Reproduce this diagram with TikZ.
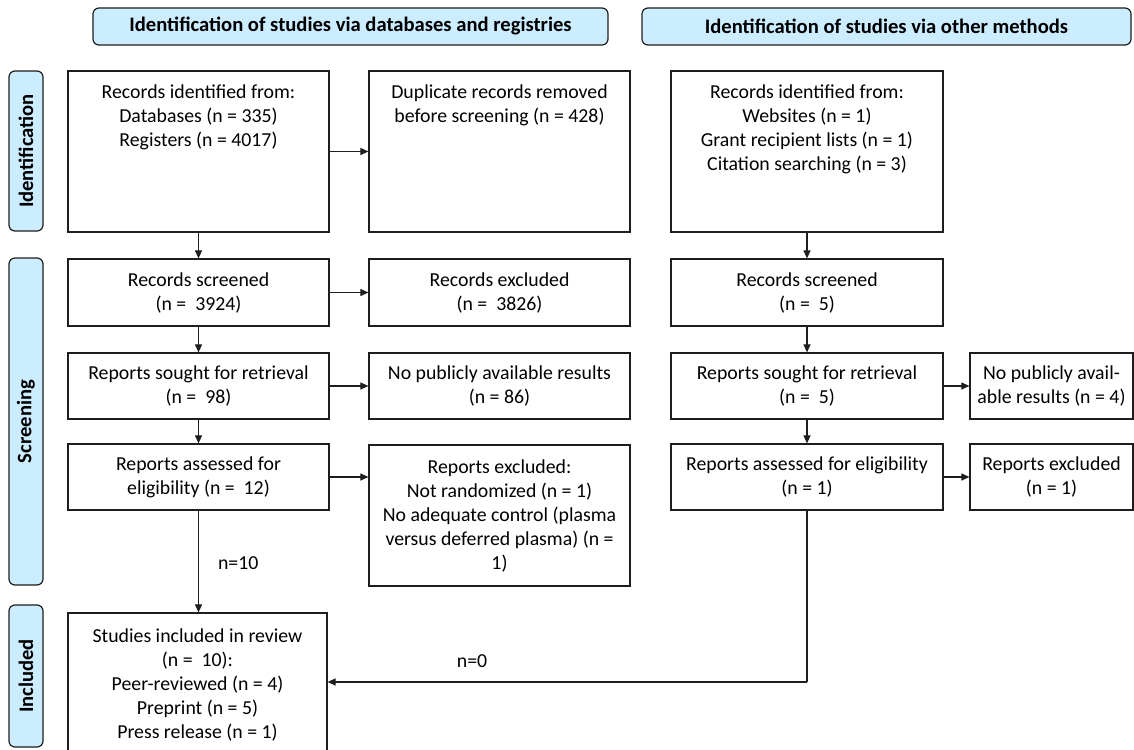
\documentclass[tikz,border=0pt]{standalone}
\usepackage{fontspec}
\setmainfont{Carlito}
\usetikzlibrary{arrows.meta}
\definecolor{hdrblue}{RGB}{204,236,255}
\definecolor{edge}{RGB}{30,30,30}
\begin{document}
\begin{tikzpicture}[x=1pt,y=-1pt,
  every node/.style={font=\fontsize{19.8}{24}\selectfont, inner sep=0pt},
  box/.style={draw=edge, line width=1.2pt, fill=white, align=center},
  txt/.style={align=center},
  hdr/.style={draw=edge, line width=1.2pt, fill=hdrblue, rounded corners=6pt, font=\fontsize{20.6}{24}\selectfont\bfseries},
  side/.style={hdr, rotate=90},
  arr/.style={draw=edge, line width=1.1pt, -{Triangle[length=8pt,width=7pt]}},
  conn/.style={draw=edge, line width=1.1pt},
  lbl/.style={font=\fontsize{19.8}{24}\selectfont}
]
\useasboundingbox (0,0) rectangle (1134,749);
\clip (0,0) rectangle (1134,749);

% headers
\node[hdr, minimum width=515pt, minimum height=37pt] (hA) at (350.5,26.5) {Identification of studies via databases and registries};
\node[hdr, minimum width=489pt, minimum height=37pt] (hB) at (886.5,26.5) {Identification of studies via other methods};
\node[side, minimum width=160pt, minimum height=34pt] (sI) at (26,151) {Identification};
\node[side, minimum width=327pt, minimum height=34pt] (sS) at (26,421.5) {Screening};
\node[side, minimum width=142pt, minimum height=34pt] (sN) at (26,676) {Included};

% identification row
\node[box, minimum width=261pt, minimum height=161pt] (idA) at (198.5,151.5) {};
\node[txt] (idAt) at (198.5,117) {Records identified from:\\Databases (n = 335)\\Registers (n = 4017)};
\node[box, minimum width=261pt, minimum height=161pt] (dup) at (499.5,151.5) {};
\node[txt] (dupt) at (499.5,105) {Duplicate records removed\\before screening (n = 428)};
\node[box, minimum width=272pt, minimum height=161pt] (idB) at (807,151.5) {};
\node[txt] (idBt) at (807,129.5) {Records identified from:\\Websites (n = 1)\\Grant recipient lists (n = 1)\\Citation searching (n = 3)};

% screening rows
\node[box, minimum width=261pt, minimum height=67pt] (scrA) at (198.5,292.5) {Records screened\\(n =~~3924)};
\node[box, minimum width=261pt, minimum height=67pt] (excA) at (499.5,292.5) {Records excluded\\(n =~~3826)};
\node[box, minimum width=272pt, minimum height=67pt] (scrB) at (807,292.5) {Records screened\\(n =~~5)};

\node[box, minimum width=261pt, minimum height=66pt] (sgtA) at (198.5,386) {Reports sought for retrieval\\(n =~~98)};
\node[box, minimum width=261pt, minimum height=66pt] (npA) at (499.5,386) {No publicly available results\\(n = 86)};
\node[box, minimum width=272pt, minimum height=66pt] (sgtB) at (807,386) {Reports sought for retrieval\\(n =~~5)};
\node[box, minimum width=163pt, minimum height=66pt] (npB) at (1051.5,386) {No publicly avail-\\able results (n = 4)};

\node[box, minimum width=261pt, minimum height=66pt] (assA) at (198.5,477) {Reports assessed for\\eligibility (n =~~12)};
\node[box, minimum width=261pt, minimum height=141pt] (rexA) at (499.5,515.5) {Reports excluded:\\Not randomized (n = 1)\\No adequate control (plasma\\versus deferred plasma) (n =\\1)};
\node[box, minimum width=272pt, minimum height=66pt] (assB) at (807,477) {Reports assessed for eligibility\\(n = 1)};
\node[box, minimum width=163pt, minimum height=66pt] (rexB) at (1051.5,477) {Reports excluded\\(n = 1)};

% included
\node[box, minimum width=259pt, minimum height=147pt] (inc) at (197.5,686.5) {};
\node[txt] (inct) at (197.5,685) {Studies included in review\\(n =~~10):\\Peer-reviewed (n = 4)\\Preprint (n = 5)\\Press release (n = 1)};

% connectors
\draw[arr] (idA.south) -- (scrA.north);
\draw[arr] (idA.east) -- (dup.west);
\draw[arr] (scrA.east) -- (excA.west);
\draw[arr] (scrA.south) -- (sgtA.north);
\draw[arr] (sgtA.east) -- (npA.west);
\draw[arr] (sgtA.south) -- (assA.north);
\draw[arr] (assA.east) -- (assA.east -| rexA.west);
\draw[arr] (assA.south) -- node[lbl, right=19pt, yshift=-2pt] (n10) {n=10} (assA.south |- inc.north);

\draw[arr] (idB.south) -- (scrB.north);
\draw[arr] (scrB.south) -- (sgtB.north);
\draw[arr] (sgtB.east) -- (npB.west);
\draw[arr] (sgtB.south) -- (assB.north);
\draw[arr] (assB.east) -- (rexB.west);

\coordinate (c0) at (807,682);
\draw[conn] (assB.south) -- (c0);
\draw[arr] (c0) -- (c0 -| inc.east);
\node[lbl] (n0) at (472,661) {n=0};
\end{tikzpicture}
\end{document}
